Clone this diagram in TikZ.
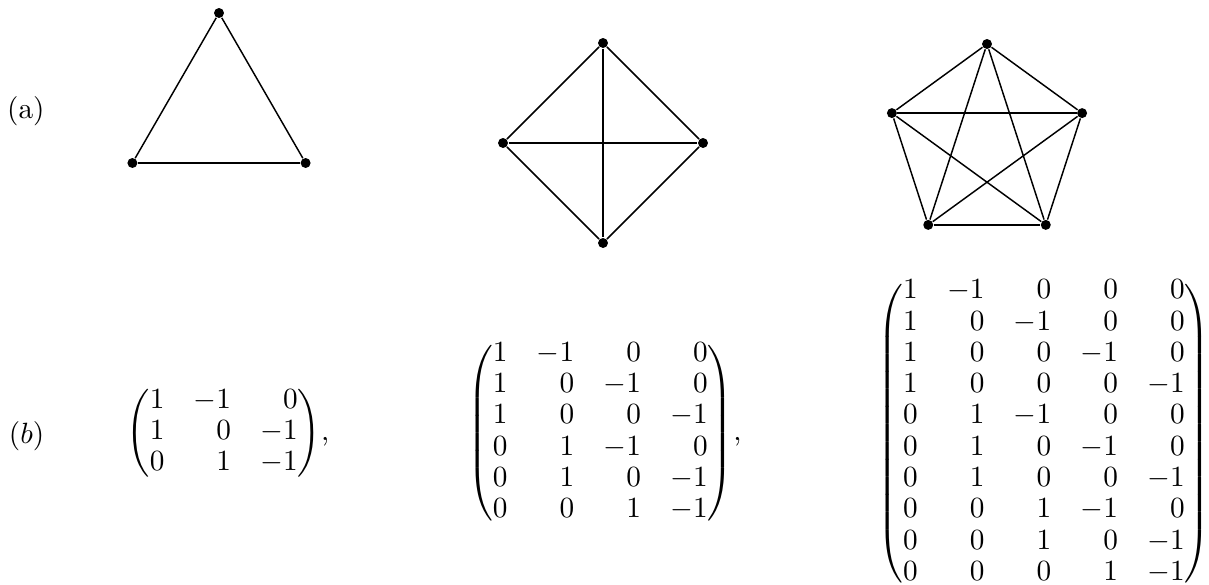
\documentclass[tikz,border=0pt]{standalone}
\usetikzlibrary{positioning}
\usepackage{amsmath}
\usepackage{mathtools}
\tikzstyle{vertex} = [circle, fill, inner sep=0pt, minimum size=3.4pt]
\tikzstyle{edge}   = [line width=0.5pt]
\renewcommand{\arraystretch}{0.89}

\begin{document}
\begin{tikzpicture}[every node/.style={inner sep=0pt}]
    \useasboundingbox (0,0) rectangle (14.508,-7.02);

    % row labels
    \node (la) at (0.31,-1.33) {(a)};
    \node (lb) at (0.32,-5.23) {$(b)$};

    % K3
    \begin{scope}[shift={(2.628,-1.356)}]
        \foreach \i/\a in {1/90,2/210,3/330}
            \node[vertex] (t\i) at (\a:1.2) {};
    \end{scope}
    \foreach \x/\y in {t1/t2, t2/t3, t3/t1}
        \draw[edge] (\x) -- (\y);

    % K4
    \begin{scope}[shift={(7.236,-1.716)}]
        \foreach \i/\a in {1/90,2/180,3/270,4/0}
            \node[vertex] (s\i) at (\a:1.2) {};
    \end{scope}
    \foreach \x in {1,...,4} {
        \foreach \y in {1,...,4} {
            \ifnum\x<\y \draw[edge] (s\x) -- (s\y); \fi
        }
    }

    % K5
    \begin{scope}[shift={(11.844,-1.728)}]
        \foreach \i/\a in {1/90,2/162,3/234,4/306,5/18}
            \node[vertex] (p\i) at (\a:1.2) {};
    \end{scope}
    \foreach \x in {1,...,5} {
        \foreach \y in {1,...,5} {
            \ifnum\x<\y \draw[edge] (p\x) -- (p\y); \fi
        }
    }

    % incidence matrices
    \node[anchor=west] (m3) at (1.512,-5.2) {$\begin{pmatrix*}[r]
        1 & -1 & 0\\
        1 & 0 & -1\\
        0 & 1 & -1
    \end{pmatrix*}$,};
    \node[anchor=west] (m4) at (5.60,-5.2) {$\begin{pmatrix*}[r]
        1 & -1 & 0 & 0\\
        1 & 0 & -1 & 0\\
        1 & 0 & 0 & -1\\
        0 & 1 & -1 & 0\\
        0 & 1 & 0 & -1\\
        0 & 0 & 1 & -1
    \end{pmatrix*}$,};
    \node[anchor=west] (m5) at (10.524,-5.2) {$\begin{pmatrix*}[r]
        1 & -1 & 0 & 0 & 0\\
        1 & 0 & -1 & 0 & 0\\
        1 & 0 & 0 & -1 & 0\\
        1 & 0 & 0 & 0 & -1\\
        0 & 1 & -1 & 0 & 0\\
        0 & 1 & 0 & -1 & 0\\
        0 & 1 & 0 & 0 & -1\\
        0 & 0 & 1 & -1 & 0\\
        0 & 0 & 1 & 0 & -1\\
        0 & 0 & 0 & 1 & -1
    \end{pmatrix*}$};
\end{tikzpicture}
\end{document}
